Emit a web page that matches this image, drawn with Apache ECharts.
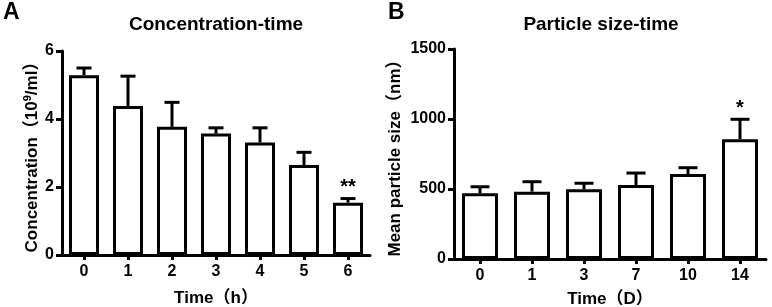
<!DOCTYPE html>
<html>
<head>
<meta charset="utf-8">
<script src="https://cdn.jsdelivr.net/npm/echarts@6/dist/echarts.min.js"></script>
<style>
html,body{margin:0;padding:0;background:#fff;}
#chart{width:772px;height:307px;}
</style>
</head>
<body>
<div id="chart"></div>
<script>
// A: 浓度随时间
var concTimes=['0','1','2','3','4','5','6'];
var concMean=[5.29,4.38,3.77,3.57,3.31,2.65,1.54];
var concSd=[0.21,0.88,0.72,0.17,0.43,0.37,0.12];
var concSig=['','','','','','','**'];
// B: 粒径随时间
var sizeDays=['0','1','3','7','10','14'];
var sizeMean=[469,481,498,529,607,855];
var sizeSd=[47,71,43,85,45,143];
var sizeSig=['','','','','','*'];

var FONT='"Liberation Sans", Arial, "Noto Sans CJK SC", sans-serif';
var lab={color:'#000',fontWeight:'bold',fontSize:16,fontFamily:FONT};

function errData(mean,sd){  //custom系列的数据 [索引, 均值, 标准差]
    var arr=[];
    for(var i=0;i<mean.length;i++){
        arr.push([i,mean[i],sd[i]]);
    }
    return arr;
}

function errRender(capW,sig){  //只画上半部分误差线+帽
    return function(params,api){
        var i=api.value(0);
        var base=api.coord([i,api.value(1)]);
        var top=api.coord([i,api.value(1)+api.value(2)]);
        var st={stroke:'#000',lineWidth:3};
        var children=[
            {type:'line',shape:{x1:base[0],y1:base[1],x2:top[0],y2:top[1]},style:st},
            {type:'line',shape:{x1:top[0]-capW/2,y1:top[1],x2:top[0]+capW/2,y2:top[1]},style:st}
        ];
        if(sig[i]){
            children.push({type:'text',x:top[0],y:top[1]-1,style:{text:sig[i],fill:'#000',
                font:'bold 20px '+FONT,align:'center',verticalAlign:'bottom'}});
        }
        return {type:'group',children:children};
    };
}

function yAx(gi,max,interval,name,gap){
    return {
        type:'value',gridIndex:gi,min:0,max:max,interval:interval,
        name:name,nameLocation:'middle',nameGap:gap,
        nameTextStyle:{color:'#000',fontWeight:'bold',fontSize:17,fontFamily:FONT,
            rich:{a:{color:'#000',fontWeight:'bold',fontSize:17,fontFamily:FONT},
                  sup:{color:'#000',fontWeight:'bold',fontSize:11,fontFamily:FONT,verticalAlign:'top',padding:[0,0,9,0]}}},
        splitLine:{show:false},
        axisLine:{show:true,lineStyle:{color:'#000',width:3}},
        axisTick:{show:true,length:6,lineStyle:{color:'#000',width:3}},
        axisLabel:Object.assign({margin:8,formatter:function(v){return String(v);}},lab)
    };
}

function xAx(gi,data,name,gap){
    return {
        type:'category',gridIndex:gi,data:data,
        name:name,nameLocation:'middle',nameGap:gap,
        nameTextStyle:{color:'#000',fontWeight:'bold',fontSize:17,fontFamily:FONT},
        axisLine:{show:true,lineStyle:{color:'#000',width:3}},
        axisTick:{show:true,alignWithLabel:true,length:5,lineStyle:{color:'#000',width:3}},
        axisLabel:Object.assign({margin:9},lab)
    };
}

var myChart=echarts.init(document.getElementById('chart'));
var option={
    backgroundColor:'#fff',
    animation:false,
    title:[
        {text:'A',left:-2,top:-4,textStyle:{fontSize:23,fontWeight:'bold',color:'#000',fontFamily:FONT}},
        {text:'Concentration-time',left:211,top:10,textAlign:'center',textStyle:{fontSize:19,fontWeight:'bold',color:'#000',fontFamily:FONT}},
        {text:'B',left:383,top:-4,textStyle:{fontSize:23,fontWeight:'bold',color:'#000',fontFamily:FONT}},
        {text:'Particle size-time',left:596,top:10,textAlign:'center',textStyle:{fontSize:19,fontWeight:'bold',color:'#000',fontFamily:FONT}}
    ],
    grid:[
        {left:62,width:308,top:51,height:204,outerBoundsMode:'none',containLabel:false},
        {left:454,width:312,top:49,height:210,outerBoundsMode:'none',containLabel:false}
    ],
    xAxis:[
        xAx(0,concTimes,'Time（h）',35),
        xAx(1,sizeDays,'Time（D）',32)
    ],
    yAxis:[
        yAx(0,6,2,'{a|Concentration（10}{sup|9}{a|/ml）}',20),
        yAx(1,1500,500,'Mean particle size（nm）',50)
    ],
    series:[
        {type:'bar',xAxisIndex:0,yAxisIndex:0,data:concMean,barWidth:30,
            itemStyle:{color:'#fff',borderColor:'#000',borderWidth:3}},
        {type:'custom',xAxisIndex:0,yAxisIndex:0,data:errData(concMean,concSd),
            encode:{x:0,y:1},renderItem:errRender(15,concSig),z:3},
        {type:'bar',xAxisIndex:1,yAxisIndex:1,data:sizeMean,barWidth:36,
            itemStyle:{color:'#fff',borderColor:'#000',borderWidth:3}},
        {type:'custom',xAxisIndex:1,yAxisIndex:1,data:errData(sizeMean,sizeSd),
            encode:{x:0,y:1},renderItem:errRender(19,sizeSig),z:3}
    ]
};
myChart.setOption(option);
window.addEventListener("resize",function(){
    myChart.resize();
});
</script>
</body>
</html>
